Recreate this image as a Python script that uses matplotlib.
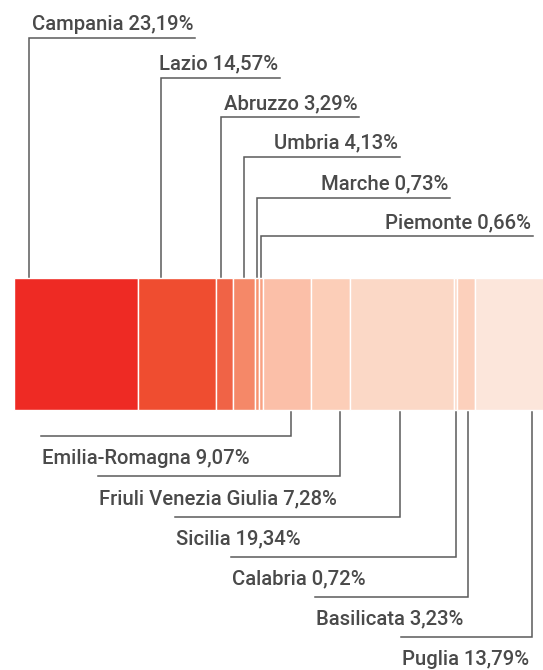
import matplotlib
matplotlib.use("Agg")
import matplotlib.pyplot as plt
import numpy as np

# ---- data ----
regions = ["Campania", "Lazio", "Abruzzo", "Umbria", "Marche", "Piemonte",
           "Emilia-Romagna", "Friuli Venezia Giulia", "Sicilia", "Calabria",
           "Basilicata", "Puglia"]
shares = [23.19, 14.57, 3.29, 4.13, 0.73, 0.66, 9.07, 7.28, 19.34, 0.72, 3.23, 13.79]
labels_top = ["Campania", "Lazio", "Abruzzo", "Umbria", "Marche", "Piemonte"]

# ---- style ----
colors = ["#EE2A24", "#EF4D30", "#F06346", "#F58868", "#F7936F", "#F9A283",
          "#FBBFA8", "#FCCEB8", "#FBD8C6", "#FCD8C6", "#FCD0BC", "#FCE6DB"]
leader_frac = [0.125, 0.30, 0.29, 0.50, 0.50, 0.60, 0.59, 0.73, 0.48, 0.50, 0.60, 0.77]
# label layout in pixels (top: text right end, bottom: text left start)
top_text_right = [195, 280, 359, 400, 450, 533]
top_line_y = [37.5, 77.5, 117, 156.5, 197.5, 236]
bot_text_left = [41, 98, 175, 231, 315, 401]
bot_line_y = [436, 476, 516.5, 556.5, 596.5, 637]

W, H = 543, 670
X0_PX, PX_PER = 13.5, 5.35
BAR_TOP, BAR_BOT = 278, 410
TXT = "#4a4a4a"
LINE = "#5a5a5a"
FONT = "Roboto"
FS = 14.6

def px2x(px):
    return (px - X0_PX) / PX_PER

fig = plt.figure(figsize=(W / 100, H / 100), dpi=100)
ax = fig.add_axes([0, 0, 1, 1])
ax.set_xlim(px2x(0), px2x(W))
ax.set_ylim(H, 0)
ax.axis("off")

lefts = np.concatenate([[0], np.cumsum(shares)[:-1]])
ax.barh((BAR_TOP + BAR_BOT) / 2, shares, left=lefts, height=BAR_BOT - BAR_TOP,
        color=colors, edgecolor="white", linewidth=1.0)

def fmt(v):
    return f"{v:.2f}".replace(".", ",") + "%"

for i, (name, v, l) in enumerate(zip(regions, shares, lefts)):
    lx = l + leader_frac[i] * v
    txt = f"{name} {fmt(v)}"
    if name in labels_top:
        k = labels_top.index(name)
        ly = top_line_y[k]
        xr = px2x(top_text_right[k])
        ax.plot([lx, lx, xr], [BAR_TOP - 1.5, ly, ly], color=LINE, lw=1.1,
                solid_joinstyle="miter")
        ax.text(xr - 0.3, ly - 8, txt, ha="right", va="baseline",
                fontsize=FS, color=TXT, family=FONT, weight="medium")
    else:
        k = i - len(labels_top)
        ly = bot_line_y[k]
        xl = px2x(bot_text_left[k])
        ax.plot([xl, lx, lx], [ly, ly, BAR_BOT + 2], color=LINE, lw=1.1,
                solid_joinstyle="miter")
        ax.text(xl + 0.2, ly + 28, txt, ha="left", va="baseline",
                fontsize=FS, color=TXT, family=FONT, weight="medium")

fig.savefig("out.png", dpi=100)
